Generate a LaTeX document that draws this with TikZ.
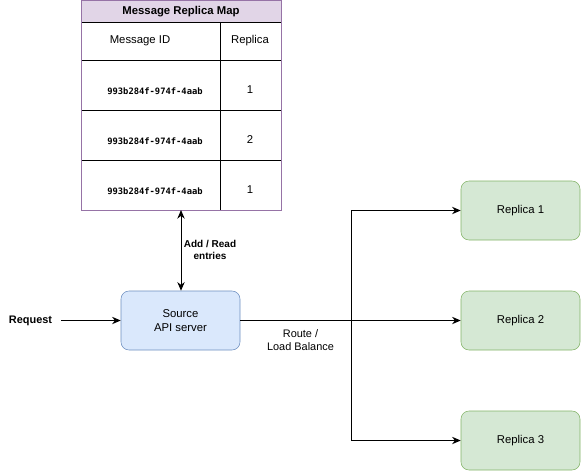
\documentclass[tikz,border=0pt]{standalone}
\usepackage{fontspec}
\setmainfont{Liberation Sans}
\newfontfamily\idmono{DejaVu Sans Mono}
\usetikzlibrary{arrows.meta}
\definecolor{mapfill}{HTML}{E1D5E7}
\definecolor{mapline}{HTML}{9673A6}
\definecolor{srcfill}{HTML}{DAE8FC}
\definecolor{srcline}{HTML}{6C8EBF}
\definecolor{repfill}{HTML}{D5E8D4}
\definecolor{repline}{HTML}{82B366}
\tikzset{
  boxtext/.style={font=\fontsize{8.5}{10.5}\selectfont, align=center},
  srcbox/.style={draw=srcline, fill=srcfill, rounded corners=6, minimum width=89.25pt, minimum height=44.25pt, boxtext},
  repbox/.style={draw=repline, fill=repfill, rounded corners=6, minimum width=89.25pt, minimum height=44.25pt, boxtext},
  idtext/.style={font=\idmono\bfseries\fontsize{6.6}{8}\selectfont},
  lbl/.style={font=\fontsize{8.2}{9.5}\selectfont, align=center},
  conn/.style={line width=0.75pt, -{Stealth[length=6.5pt,width=5.5pt]}},
}

\begin{document}
\begin{tikzpicture}[x=0.75pt,y=0.75pt,yscale=-1,xscale=1]
\path[use as bounding box] (0,0) rectangle (581,472);

%Shape: Table [id:map]
\fill[white] (81,0.5) rectangle (281,210);
\fill[mapfill] (81,0.5) rectangle (281,22);
\draw[black, line width=0.75pt] (81,22) -- (281,22);
\draw[black, line width=0.75pt] (81,60) -- (281,60);
\draw[black, line width=0.75pt] (81,110) -- (281,110);
\draw[black, line width=0.75pt] (81,160) -- (281,160);
\draw[black, line width=0.75pt] (220,22) -- (220,210);
\draw[mapline, line width=0.75pt] (81,0.5) rectangle (281,210);

% Text Node
\node[font=\bfseries\fontsize{8.5}{10}\selectfont] (maptitle) at (181,12) {Message Replica Map};
% Text Node
\node[boxtext] (hdrid) at (140,41) {Message ID};
% Text Node
\node[boxtext] (hdrrep) at (250,41) {Replica};
% Text Node
\node[idtext] (id1) at (155,91) {993b284f-974f-4aab};
\node[boxtext] (rep1) at (250,90) {1};
% Text Node
\node[idtext] (id2) at (155,141) {993b284f-974f-4aab};
\node[boxtext] (rep2) at (250,140) {2};
% Text Node
\node[idtext] (id3) at (155,191) {993b284f-974f-4aab};
\node[boxtext] (rep3) at (250,190) {1};
\coordinate (mapbot) at (181,210);

%Shape: Rounded Rect [id:source]
\node[srcbox] (source) at (180.5,320.5) {Source\\API server};

%Shape: Rounded Rect [id:replicas]
\node[repbox] (replica1) at (520.5,210.5) {Replica 1};
\node[repbox] (replica2) at (520.5,320.5) {Replica 2};
\node[repbox] (replica3) at (520.5,440.5) {Replica 3};

% Text Node
\node[font=\bfseries\fontsize{8.2}{9.5}\selectfont] (request) at (30.5,320.5) {Request};
\coordinate (reqstart) at (61,320.5);
\coordinate (split) at (351,320.5);

% Connectors
\draw[conn] (reqstart) -- (source);
\draw[line width=0.75pt, {Stealth[length=6.5pt,width=5.5pt]}-{Stealth[length=6.5pt,width=5.5pt]}] (mapbot) -- (source.north -| mapbot);
\draw[conn] (source) -- (replica2);
\draw[conn] (split) |- (replica1);
\draw[conn] (split) |- (replica3);

% Text Node
\node[lbl, font=\bfseries\fontsize{7.5}{9}\selectfont] (addread) at (210,250) {Add / Read\\entries};
% Text Node
\node[lbl] (route) at (300.5,340) {Route /\\Load Balance};

\end{tikzpicture}
\end{document}
